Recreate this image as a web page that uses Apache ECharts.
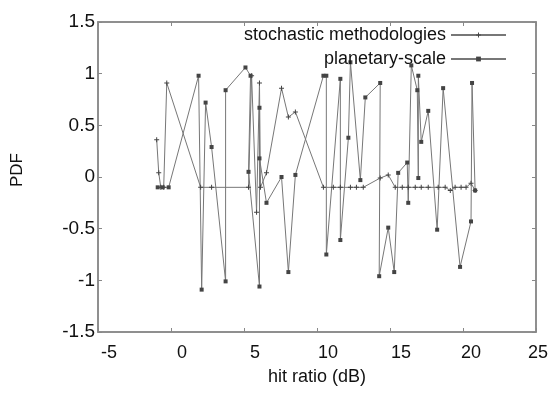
<!DOCTYPE html>
<html>
<head>
<meta charset="utf-8">
<script src="https://cdn.jsdelivr.net/npm/echarts@6/dist/echarts.min.js"></script>
<style>html,body{margin:0;padding:0;background:#fff}#c{width:551px;height:399px}</style>
</head>
<body>
<div id="c"></div>
<script>
var seriesNames = ['stochastic methodologies', 'planetary-scale'];
var xTicks = [-5, 0, 5, 10, 15, 20, 25];
var yTicks = [-1.5, -1, -0.5, 0, 0.5, 1, 1.5];

var stochasticX = [-0.98,-0.84,-0.70,-0.50,-0.29,2.03,2.78,5.31,5.52,5.86,6.06,6.13,6.54,7.57,8.04,8.52,10.44,11.12,11.60,12.29,12.70,13.17,14.33,14.88,15.36,15.84,16.25,16.73,17.14,17.62,18.30,18.78,19.13,19.46,19.87,20.21,20.55,20.83];
var stochasticY = [0.36,0.04,-0.10,-0.10,0.91,-0.10,-0.10,-0.10,0.98,-0.34,0.91,-0.10,0.04,0.86,0.58,0.63,-0.10,-0.10,-0.10,-0.10,-0.10,-0.10,-0.01,0.02,-0.10,-0.10,-0.10,-0.10,-0.10,-0.10,-0.10,-0.10,-0.13,-0.10,-0.10,-0.10,-0.06,-0.13];

var planetaryX = [-0.91,-0.57,-0.16,1.89,2.10,2.37,2.78,3.74,3.74,5.10,5.45,5.31,6.06,6.06,6.06,6.54,7.57,8.04,8.52,10.44,10.64,10.64,11.60,11.60,12.15,12.29,12.97,13.31,14.33,14.26,14.88,15.29,15.56,16.18,16.25,16.46,16.87,16.94,16.94,17.14,17.62,18.23,18.64,19.80,20.55,20.62,20.83];
var planetaryY = [-0.10,-0.10,-0.10,0.98,-1.09,0.72,0.29,-1.01,0.84,1.06,0.98,0.05,-1.06,0.67,0.18,-0.25,0.00,-0.92,0.02,0.98,0.98,-0.75,0.95,-0.61,0.38,1.11,-0.03,0.77,0.91,-0.96,-0.49,-0.92,0.04,0.14,-0.25,1.08,0.84,-0.01,0.98,0.34,0.64,-0.51,0.86,-0.87,-0.43,0.91,-0.13];

function pairs(xs, ys) { return xs.map(function (x, i) { return [x, ys[i]]; }); }

var axisColor = '#888';
var font = 'Liberation Sans, Arial, sans-serif';
var chart = echarts.init(document.getElementById('c'), null, {renderer: 'canvas'});

var tickCommon = {show: true, inside: true, length: 4, lineStyle: {color: axisColor, width: 1}};
var lineCommon = {show: true, onZero: false, lineStyle: {color: axisColor, width: 1.5}};

chart.setOption({
  animation: false,
  backgroundColor: '#fff',
  grid: {left: 98, right: 14, top: 22, bottom: 67, show: true, borderColor: axisColor, borderWidth: 1.5, backgroundColor: 'transparent'},
  legend: {
    data: seriesNames,
    orient: 'vertical',
    right: 39,
    top: 21,
    align: 'right',
    itemWidth: 55,
    itemHeight: 6,
    itemGap: 6,
    textStyle: {fontFamily: font, fontSize: 18, color: '#111'}
  },
  xAxis: [{
    type: 'value', min: xTicks[0], max: xTicks[xTicks.length - 1], interval: 5,
    position: 'bottom',
    name: 'hit ratio (dB)', nameLocation: 'middle', nameGap: 36,
    nameTextStyle: {fontFamily: font, fontSize: 18, color: '#111'},
    axisLine: lineCommon, axisTick: tickCommon, splitLine: {show: false},
    axisLabel: {
      margin: 12, color: '#111', fontFamily: font, fontSize: 18,
      formatter: function (v) {
        if (v === 25) return '{e|' + v + '}';
        if (v === 20) return '{d|' + v + '}';
        return '{a|' + v + '}';
      },
      rich: {
        a: {padding: [0, 0, 0, 22], fontSize: 18, fontFamily: font, color: '#111'},
        d: {padding: [0, 0, 0, 16], fontSize: 18, fontFamily: font, color: '#111'},
        e: {padding: [0, 0, 0, 4], fontSize: 18, fontFamily: font, color: '#111'}
      }
    }
  }, {
    type: 'value', min: xTicks[0], max: xTicks[xTicks.length - 1], interval: 5,
    position: 'top', show: true,
    axisLine: lineCommon, axisTick: tickCommon, axisLabel: {show: false}, splitLine: {show: false}
  }],
  yAxis: [{
    type: 'value', min: yTicks[0], max: yTicks[yTicks.length - 1], interval: 0.5,
    position: 'left',
    name: 'PDF', nameLocation: 'middle', nameGap: 72,
    nameTextStyle: {fontFamily: font, fontSize: 17, color: '#111', padding: [0, 0, 0, 14]},
    axisLine: lineCommon, axisTick: tickCommon, splitLine: {show: false},
    axisLabel: {margin: 3, color: '#111', fontFamily: font, fontSize: 19}
  }, {
    type: 'value', min: yTicks[0], max: yTicks[yTicks.length - 1], interval: 0.5,
    position: 'right', show: true,
    axisLine: lineCommon, axisTick: tickCommon, axisLabel: {show: false}, splitLine: {show: false}
  }],
  series: [{
    name: seriesNames[0],
    type: 'line',
    data: pairs(stochasticX, stochasticY),
    symbol: 'path://M4,0h2v4h4v2h-4v4h-2v-4h-4v-2h4z',
    symbolSize: 5,
    showAllSymbol: true,
    itemStyle: {color: '#444'},
    lineStyle: {color: '#777', width: 1},
    xAxisIndex: 0, yAxisIndex: 0
  }, {
    name: seriesNames[1],
    type: 'line',
    data: pairs(planetaryX, planetaryY),
    symbol: 'rect',
    symbolSize: 4,
    showAllSymbol: true,
    itemStyle: {color: '#444'},
    lineStyle: {color: '#777', width: 1},
    xAxisIndex: 0, yAxisIndex: 0
  }, {
    type: 'line', data: [], xAxisIndex: 1, yAxisIndex: 1, silent: true
  }]
});
</script>
</body>
</html>
